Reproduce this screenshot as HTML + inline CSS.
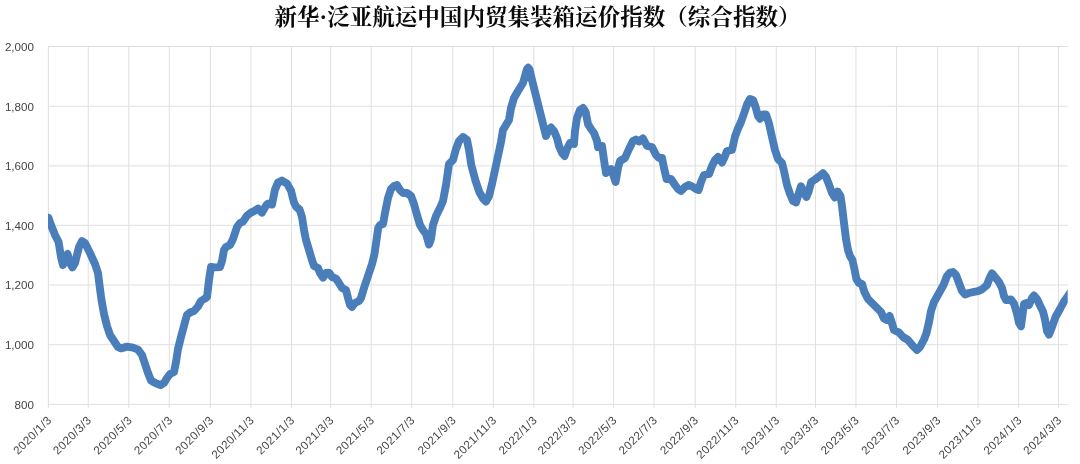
<!DOCTYPE html>
<html lang="zh-CN">
<head>
<meta charset="utf-8">
<title>新华·泛亚航运中国内贸集装箱运价指数（综合指数）</title>
<style>
html,body{margin:0;padding:0;background:#fff;}
body{width:1080px;height:464px;overflow:hidden;font-family:"Liberation Sans",sans-serif;}
svg{display:block;will-change:transform;}
.lab{font-family:"Liberation Sans",sans-serif;font-size:11.6px;fill:#444444;}
.grid line{stroke:#dfdfdf;stroke-width:1;shape-rendering:auto;}
</style>
</head>
<body>
<svg width="1080" height="464" viewBox="0 0 1080 464" role="img" aria-label="新华·泛亚航运中国内贸集装箱运价指数（综合指数）">
<rect width="1080" height="464" fill="#ffffff"/>
<defs>
<clipPath id="plot"><rect x="48.00" y="38.50" width="1019.70" height="373.90"/></clipPath>
</defs>
<g id="title" fill="#0a0a0a">
<title>新华·泛亚航运中国内贸集装箱运价指数（综合指数）</title>
<text x="537.5" y="24.5" text-anchor="middle" textLength="526" lengthAdjust="spacing" font-size="22.5" font-weight="bold" font-family="'Liberation Serif','Noto Serif CJK SC',serif" fill="#0a0a0a">新华·泛亚航运中国内贸集装箱运价指数（综合指数）</text>
</g>
<g class="grid">
<line x1="47.90" y1="46.50" x2="1067.7" y2="46.50"/>
<line x1="47.90" y1="106.25" x2="1067.7" y2="106.25"/>
<line x1="47.90" y1="165.90" x2="1067.7" y2="165.90"/>
<line x1="47.90" y1="225.30" x2="1067.7" y2="225.30"/>
<line x1="47.90" y1="285.00" x2="1067.7" y2="285.00"/>
<line x1="47.90" y1="344.70" x2="1067.7" y2="344.70"/>
<line x1="47.90" y1="404.40" x2="1067.7" y2="404.40"/>
<line x1="48.40" y1="46.00" x2="48.40" y2="407.8"/>
<line x1="88.25" y1="46.00" x2="88.25" y2="407.8"/>
<line x1="128.76" y1="46.00" x2="128.76" y2="407.8"/>
<line x1="169.27" y1="46.00" x2="169.27" y2="407.8"/>
<line x1="210.44" y1="46.00" x2="210.44" y2="407.8"/>
<line x1="250.95" y1="46.00" x2="250.95" y2="407.8"/>
<line x1="291.46" y1="46.00" x2="291.46" y2="407.8"/>
<line x1="330.64" y1="46.00" x2="330.64" y2="407.8"/>
<line x1="371.15" y1="46.00" x2="371.15" y2="407.8"/>
<line x1="411.66" y1="46.00" x2="411.66" y2="407.8"/>
<line x1="452.84" y1="46.00" x2="452.84" y2="407.8"/>
<line x1="493.35" y1="46.00" x2="493.35" y2="407.8"/>
<line x1="533.86" y1="46.00" x2="533.86" y2="407.8"/>
<line x1="573.04" y1="46.00" x2="573.04" y2="407.8"/>
<line x1="613.55" y1="46.00" x2="613.55" y2="407.8"/>
<line x1="654.06" y1="46.00" x2="654.06" y2="407.8"/>
<line x1="695.24" y1="46.00" x2="695.24" y2="407.8"/>
<line x1="735.75" y1="46.00" x2="735.75" y2="407.8"/>
<line x1="776.26" y1="46.00" x2="776.26" y2="407.8"/>
<line x1="815.44" y1="46.00" x2="815.44" y2="407.8"/>
<line x1="855.95" y1="46.00" x2="855.95" y2="407.8"/>
<line x1="896.46" y1="46.00" x2="896.46" y2="407.8"/>
<line x1="937.63" y1="46.00" x2="937.63" y2="407.8"/>
<line x1="978.14" y1="46.00" x2="978.14" y2="407.8"/>
<line x1="1018.65" y1="46.00" x2="1018.65" y2="407.8"/>
<line x1="1058.50" y1="46.00" x2="1058.50" y2="407.8"/>
</g>
<g class="lab" text-anchor="end">
<text x="33.9" y="50.80">2,000</text>
<text x="33.9" y="110.55">1,800</text>
<text x="33.9" y="170.20">1,600</text>
<text x="33.9" y="229.60">1,400</text>
<text x="33.9" y="289.30">1,200</text>
<text x="33.9" y="349.00">1,000</text>
<text x="33.9" y="408.70">800</text>
</g>
<g class="lab" text-anchor="end" letter-spacing="0.45">
<text transform="translate(52.40 420.8) rotate(-45)">2020/1/3</text>
<text transform="translate(92.25 420.8) rotate(-45)">2020/3/3</text>
<text transform="translate(132.76 420.8) rotate(-45)">2020/5/3</text>
<text transform="translate(173.27 420.8) rotate(-45)">2020/7/3</text>
<text transform="translate(214.44 420.8) rotate(-45)">2020/9/3</text>
<text transform="translate(254.95 420.8) rotate(-45)">2020/11/3</text>
<text transform="translate(295.46 420.8) rotate(-45)">2021/1/3</text>
<text transform="translate(334.64 420.8) rotate(-45)">2021/3/3</text>
<text transform="translate(375.15 420.8) rotate(-45)">2021/5/3</text>
<text transform="translate(415.66 420.8) rotate(-45)">2021/7/3</text>
<text transform="translate(456.84 420.8) rotate(-45)">2021/9/3</text>
<text transform="translate(497.35 420.8) rotate(-45)">2021/11/3</text>
<text transform="translate(537.86 420.8) rotate(-45)">2022/1/3</text>
<text transform="translate(577.04 420.8) rotate(-45)">2022/3/3</text>
<text transform="translate(617.55 420.8) rotate(-45)">2022/5/3</text>
<text transform="translate(658.06 420.8) rotate(-45)">2022/7/3</text>
<text transform="translate(699.24 420.8) rotate(-45)">2022/9/3</text>
<text transform="translate(739.75 420.8) rotate(-45)">2022/11/3</text>
<text transform="translate(780.26 420.8) rotate(-45)">2023/1/3</text>
<text transform="translate(819.44 420.8) rotate(-45)">2023/3/3</text>
<text transform="translate(859.95 420.8) rotate(-45)">2023/5/3</text>
<text transform="translate(900.46 420.8) rotate(-45)">2023/7/3</text>
<text transform="translate(941.63 420.8) rotate(-45)">2023/9/3</text>
<text transform="translate(982.14 420.8) rotate(-45)">2023/11/3</text>
<text transform="translate(1022.65 420.8) rotate(-45)">2024/1/3</text>
<text transform="translate(1062.50 420.8) rotate(-45)">2024/3/3</text>
</g>
<path d="M48.4 217.7 L51.0 225.0 L55.0 235.0 L58.6 242.0 L61.0 257.0 L63.0 265.0 L65.0 257.0 L67.6 254.0 L70.0 263.0 L72.4 267.4 L75.0 263.0 L79.0 247.0 L82.0 241.0 L85.0 243.0 L90.0 253.0 L95.0 264.0 L98.0 273.0 L100.0 289.0 L101.5 300.0 L104.0 314.0 L107.0 326.0 L110.0 335.0 L114.0 341.0 L118.0 347.0 L121.0 348.4 L127.0 346.6 L133.0 347.6 L138.0 349.6 L142.0 355.0 L145.0 364.0 L148.0 373.0 L151.0 380.5 L155.0 382.8 L160.5 385.2 L164.0 383.0 L167.0 378.0 L170.0 374.0 L174.0 372.0 L176.0 362.0 L178.0 349.0 L181.0 337.0 L185.0 322.0 L187.0 315.0 L190.0 312.4 L194.0 311.0 L198.0 306.5 L201.0 301.0 L205.0 298.5 L207.0 297.0 L209.0 280.0 L211.0 267.0 L215.0 267.4 L220.0 267.0 L222.0 261.0 L224.0 250.0 L226.0 247.0 L230.0 245.0 L233.0 239.0 L237.0 227.0 L240.0 223.0 L243.0 221.6 L247.0 215.6 L251.0 212.6 L254.0 211.2 L258.0 208.6 L262.0 212.6 L266.0 205.6 L268.0 203.6 L272.0 204.6 L275.0 189.6 L278.0 182.6 L282.0 180.6 L287.0 183.6 L291.0 190.6 L294.0 202.6 L296.0 206.6 L299.6 209.6 L302.0 217.0 L304.0 230.0 L306.0 240.0 L309.0 250.0 L311.5 258.5 L314.0 266.0 L318.0 268.0 L320.0 273.0 L323.0 277.6 L326.0 273.0 L329.0 272.6 L332.0 277.0 L336.0 278.6 L339.0 283.0 L342.0 288.0 L346.0 290.0 L348.0 298.0 L350.0 305.0 L352.0 307.0 L355.0 303.0 L359.0 301.0 L361.0 298.0 L364.0 288.0 L368.0 276.0 L372.0 264.0 L374.5 254.0 L376.5 240.0 L378.2 228.0 L380.0 225.0 L383.0 224.0 L385.0 213.0 L388.0 198.0 L391.0 189.0 L394.0 186.0 L397.0 185.0 L400.0 190.0 L403.0 193.0 L407.0 193.0 L411.0 196.0 L414.0 204.0 L417.0 215.0 L420.0 225.0 L423.0 230.0 L426.0 234.0 L429.0 244.5 L431.0 239.0 L433.0 225.0 L436.0 216.0 L440.0 208.0 L443.0 201.0 L446.0 185.0 L448.0 171.0 L449.0 164.0 L453.0 160.0 L456.0 149.0 L459.0 141.0 L463.0 137.0 L467.0 140.0 L469.0 150.0 L471.3 165.0 L475.3 180.0 L479.3 192.0 L483.3 199.0 L486.0 201.6 L489.0 196.0 L492.0 184.0 L495.0 170.0 L498.0 156.0 L501.0 142.0 L503.0 130.0 L506.0 125.0 L509.0 120.0 L511.0 108.0 L514.0 98.0 L518.0 91.0 L523.0 83.0 L525.0 76.0 L527.0 69.0 L528.2 67.8 L529.4 69.0 L531.0 76.0 L534.0 88.0 L537.0 100.0 L540.0 112.0 L543.0 124.0 L546.0 136.0 L548.0 131.0 L551.0 127.5 L554.0 131.0 L557.0 138.0 L559.0 146.0 L562.0 153.0 L564.6 156.0 L567.0 149.0 L570.0 143.0 L574.0 144.0 L575.0 131.0 L577.0 118.0 L580.0 110.0 L583.0 108.0 L585.6 112.0 L588.0 124.0 L591.0 129.0 L594.0 133.0 L597.0 141.0 L598.0 147.0 L602.0 146.0 L604.0 160.0 L606.0 173.0 L609.0 170.0 L611.0 169.0 L613.6 176.0 L615.6 182.0 L618.0 168.0 L620.0 161.0 L625.0 158.0 L629.0 149.0 L633.0 141.0 L636.0 139.5 L639.0 141.5 L643.0 138.5 L647.0 146.0 L652.0 147.0 L656.0 155.0 L659.0 158.0 L662.0 158.0 L664.0 168.0 L666.6 179.0 L671.0 179.0 L675.0 185.0 L678.0 189.0 L681.0 191.0 L685.0 187.0 L688.6 185.0 L692.0 186.4 L696.0 189.0 L698.6 190.0 L701.0 182.0 L704.0 175.0 L709.0 174.0 L712.0 166.0 L715.0 160.0 L718.0 157.0 L722.0 162.5 L724.6 157.0 L727.0 151.0 L732.0 150.0 L735.0 136.5 L738.0 128.5 L741.0 122.0 L744.0 113.5 L747.0 104.5 L750.0 99.0 L753.0 100.0 L755.6 107.0 L758.0 116.0 L760.0 118.8 L763.0 114.5 L766.0 114.5 L769.0 123.5 L772.0 137.0 L775.0 150.0 L778.0 159.0 L782.0 163.0 L784.0 171.0 L787.0 185.0 L790.0 194.0 L793.0 201.0 L796.0 202.5 L798.6 194.0 L801.0 186.3 L804.0 192.0 L806.4 197.0 L808.5 192.0 L811.2 182.0 L815.0 179.5 L819.0 176.5 L823.0 173.2 L826.0 177.0 L829.0 184.5 L832.0 193.0 L834.8 197.5 L837.7 191.5 L840.5 196.0 L842.0 206.0 L844.0 223.0 L846.0 239.0 L848.0 250.0 L850.0 256.0 L852.4 260.0 L854.4 269.0 L856.4 279.0 L859.0 283.0 L862.0 284.0 L864.4 292.0 L868.0 299.0 L873.0 304.0 L878.0 309.0 L881.0 312.0 L884.0 318.5 L886.4 320.0 L889.6 316.0 L891.6 322.0 L894.0 330.0 L899.0 332.5 L903.0 337.0 L908.0 340.0 L913.0 346.0 L917.0 350.0 L920.0 347.0 L924.0 339.5 L926.5 333.0 L929.0 322.0 L931.0 311.0 L934.0 302.0 L938.5 294.0 L943.5 285.0 L947.0 276.0 L950.0 272.6 L953.0 272.0 L956.0 275.0 L959.0 283.0 L962.0 291.0 L965.0 294.5 L969.0 293.0 L974.0 291.8 L978.0 291.2 L982.0 289.4 L987.0 285.0 L989.6 278.0 L992.0 273.4 L995.0 277.0 L999.0 282.0 L1002.0 288.0 L1004.0 296.0 L1006.0 300.0 L1011.0 299.4 L1014.2 304.0 L1017.0 314.0 L1019.0 323.0 L1021.0 326.3 L1022.4 315.5 L1024.0 304.0 L1026.7 303.0 L1029.0 305.0 L1032.0 298.0 L1034.0 295.5 L1037.0 299.0 L1040.0 305.5 L1043.0 311.5 L1045.0 319.5 L1047.0 331.0 L1049.0 334.5 L1052.0 327.0 L1055.5 317.0 L1060.0 309.0 L1064.0 301.5 L1067.6 296.5 L1070.0 293.0" fill="none" stroke="#4a7ebb" stroke-width="7.9" stroke-linejoin="round" stroke-linecap="round" clip-path="url(#plot)"/>
</svg>
</body>
</html>
